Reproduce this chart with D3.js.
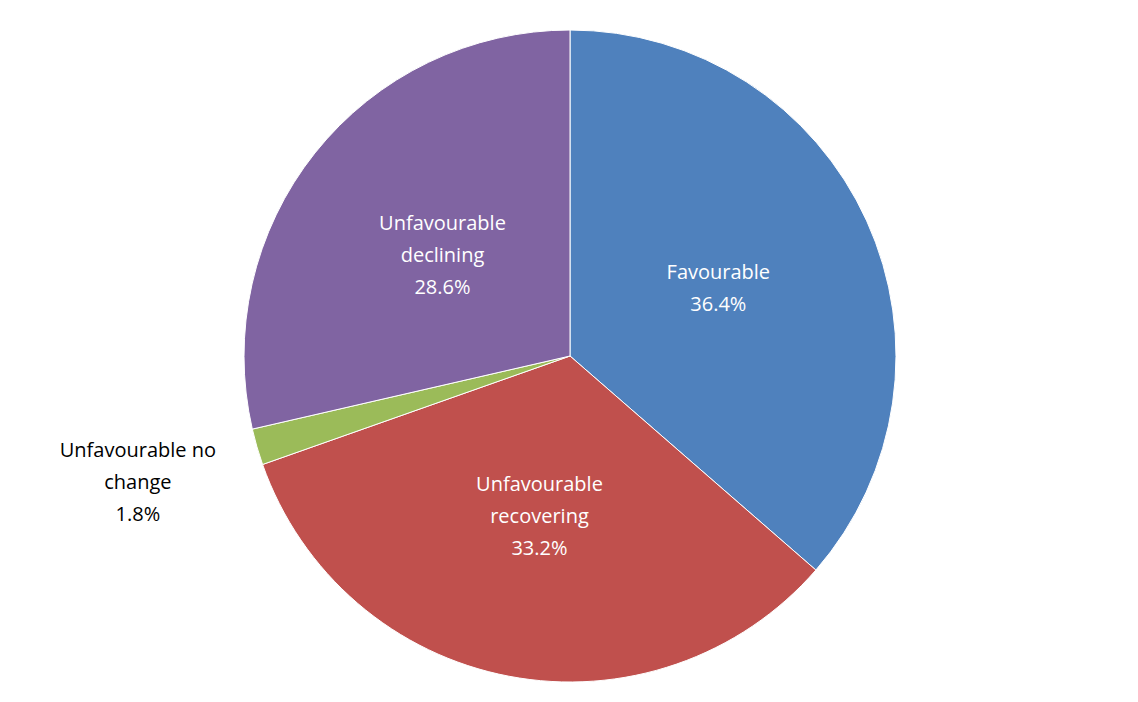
<!DOCTYPE html>
<html>
<head>
<meta charset="utf-8">
<script src="https://cdn.jsdelivr.net/npm/d3@7"></script>
<style>body{margin:0;background:#fff;}</style>
</head>
<body>
<svg id="chart" width="1138" height="702"></svg>
<script>
var categories = ["Favourable", "Unfavourable recovering", "Unfavourable no change", "Unfavourable declining"];
var labelLines = [["Favourable"], ["Unfavourable", "recovering"], ["Unfavourable no", "change"], ["Unfavourable", "declining"]];
var values = [36.4, 33.2, 1.8, 28.6];
var colors = ["#4F81BD", "#C0504D", "#9BBB59", "#8064A2"];
var outside = [false, false, true, false];

var cx = 570, cy = 356, r = 326;
var svg = d3.select("#chart");
var g = svg.append("g").attr("transform", "translate(" + cx + "," + cy + ")");

var pie = d3.pie().sort(null).value(function(d) { return d; });
var arcs = pie(values);
var arc = d3.arc().innerRadius(0).outerRadius(r);
var inLabel = d3.arc().innerRadius(163).outerRadius(163);
var outLabel = d3.arc().innerRadius(450).outerRadius(450);

g.selectAll("path")
    .data(arcs)
    .enter()
    .append("path")
    .attr("d", arc)
    .attr("fill", function(d, i) { return colors[i]; })
    .attr("stroke", "#fff")
    .attr("stroke-width", 1);

var lh = 32;
arcs.forEach(function(d, i) {
    var c = outside[i] ? outLabel.centroid(d) : inLabel.centroid(d);
    var lines = labelLines[i].concat([values[i].toFixed(1) + "%"]);
    var t = g.append("text")
        .attr("text-anchor", "middle")
        .attr("font-family", "'Open Sans', 'Noto Sans', sans-serif")
        .attr("font-size", "20px")
        .attr("fill", outside[i] ? "#000" : "#fff");
    lines.forEach(function(s, j) {
        t.append("tspan")
            .attr("x", c[0])
            .attr("y", c[1] + (j - (lines.length - 1) / 2) * lh + 7)
            .text(s);
    });
});
</script>
</body>
</html>
